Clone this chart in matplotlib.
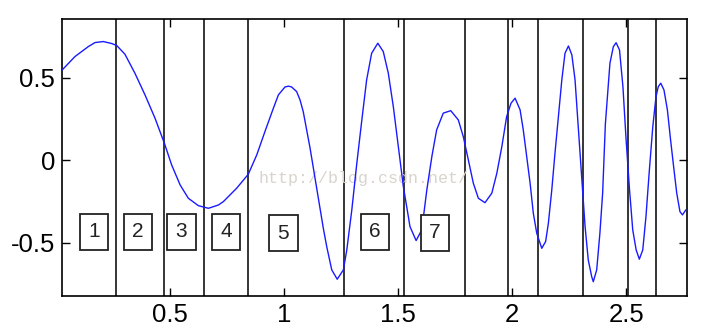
import matplotlib
matplotlib.use("Agg")
import matplotlib.pyplot as plt

# ---- data ----
curve_x = [0.026, 0.082, 0.140, 0.170, 0.206, 0.243, 0.265, 0.301, 0.345, 0.389,
           0.433, 0.474, 0.506, 0.543, 0.579, 0.623, 0.667, 0.711, 0.733, 0.791,
           0.842, 0.879, 0.915, 0.952, 0.974, 1.003, 1.018, 1.032, 1.054, 1.069,
           1.083, 1.113, 1.142, 1.171, 1.186, 1.208, 1.232, 1.259, 1.274, 1.296,
           1.318, 1.340, 1.361, 1.383, 1.410, 1.434, 1.456, 1.478, 1.500, 1.522,
           1.544, 1.551, 1.578, 1.603, 1.625, 1.647, 1.668, 1.697, 1.730, 1.763,
           1.785, 1.807, 1.829, 1.851, 1.880, 1.910, 1.932, 1.954, 1.975, 1.994,
           2.012, 2.034, 2.048, 2.063, 2.078, 2.092, 2.107, 2.129, 2.146, 2.158,
           2.173, 2.187, 2.202, 2.217, 2.231, 2.246, 2.261, 2.275, 2.289, 2.304,
           2.319, 2.333, 2.348, 2.355, 2.370, 2.384, 2.396, 2.408, 2.428, 2.443,
           2.455, 2.470, 2.485, 2.499, 2.514, 2.528, 2.543, 2.557, 2.572, 2.586,
           2.601, 2.616, 2.630, 2.640, 2.651, 2.665, 2.680, 2.694, 2.709, 2.721,
           2.735, 2.746, 2.761]
curve_y = [0.549, 0.630, 0.690, 0.715, 0.721, 0.709, 0.697, 0.644, 0.528, 0.397,
           0.255, 0.103, -0.029, -0.150, -0.231, -0.276, -0.292, -0.272, -0.251, -0.170,
           -0.085, 0.032, 0.174, 0.316, 0.397, 0.445, 0.450, 0.445, 0.417, 0.366,
           0.295, 0.073, -0.170, -0.413, -0.525, -0.666, -0.723, -0.666, -0.545, -0.302,
           -0.018, 0.245, 0.488, 0.650, 0.711, 0.660, 0.529, 0.326, 0.083, -0.160,
           -0.343, -0.403, -0.488, -0.423, -0.180, 0.022, 0.184, 0.286, 0.301, 0.245,
           0.143, 0.002, -0.140, -0.231, -0.258, -0.200, -0.079, 0.083, 0.265, 0.346,
           0.377, 0.306, 0.184, 0.022, -0.140, -0.322, -0.443, -0.535, -0.494, -0.383,
           -0.180, 0.043, 0.265, 0.488, 0.650, 0.694, 0.640, 0.488, 0.204, -0.100,
           -0.403, -0.606, -0.707, -0.738, -0.666, -0.443, -0.200, 0.220, 0.589, 0.690,
           0.714, 0.670, 0.447, 0.123, -0.180, -0.423, -0.545, -0.601, -0.545, -0.343,
           -0.059, 0.204, 0.386, 0.447, 0.468, 0.427, 0.306, 0.123, -0.059, -0.200,
           -0.312, -0.332, -0.302]

boundaries = [0.263, 0.474, 0.646, 0.842, 1.263, 1.526, 1.791, 1.981,
              2.113, 2.310, 2.507, 2.632]

box_labels = ["1", "2", "3", "4", "5", "6", "7"]
box_x = [0.164, 0.359, 0.549, 0.744, 0.996, 1.399, 1.660]
box_y = [-0.434, -0.434, -0.434, -0.434, -0.443, -0.434, -0.442]

x_ticks = [0.5, 1, 1.5, 2, 2.5]
x_tick_labels = ["0.5", "1", "1.5", "2", "2.5"]
y_ticks = [-0.5, 0, 0.5]
y_tick_labels = ["-0.5", "0", "0.5"]

watermark = "http://blog.csdn.net/"

# ---- figure ----
W, H, DPI = 706, 335, 100
fig = plt.figure(figsize=(W / DPI, H / DPI), dpi=DPI)
ax = fig.add_axes([62 / W, 1 - 295.7 / H, (687 - 62) / W, (295.7 - 19) / H])

for b in boundaries:
    ax.axvline(b, color="black", lw=1.1, zorder=1)

ax.plot(curve_x, curve_y, color="#1a1aff", lw=1.0, zorder=3)

for lab, bx, by in zip(box_labels, box_x, box_y):
    ax.text(bx, by, lab, ha="center", va="center", fontsize=15,
            family="Liberation Sans", color="#222222", zorder=4,
            bbox=dict(boxstyle="square,pad=0.4", fc="white", ec="#222222", lw=1.3))

ax.text(0.885, -0.108, watermark, ha="left", va="center", fontsize=12,
        family="Liberation Mono", color="#d9d4cc", zorder=2)

ax.set_xlim(0.025, 2.766)
ax.set_ylim(-0.823, 0.858)
ax.set_xticks(x_ticks)
ax.set_xticklabels(x_tick_labels)
ax.set_yticks(y_ticks)
ax.set_yticklabels(y_tick_labels)
ax.tick_params(direction="in", length=5.5, width=1.0, top=True, right=True,
               labelsize=18.5, pad=5)
for lbl in ax.get_xticklabels() + ax.get_yticklabels():
    lbl.set_family("Liberation Sans")
for s in ax.spines.values():
    s.set_linewidth(1.2)

fig.savefig("out.png", dpi=DPI)
